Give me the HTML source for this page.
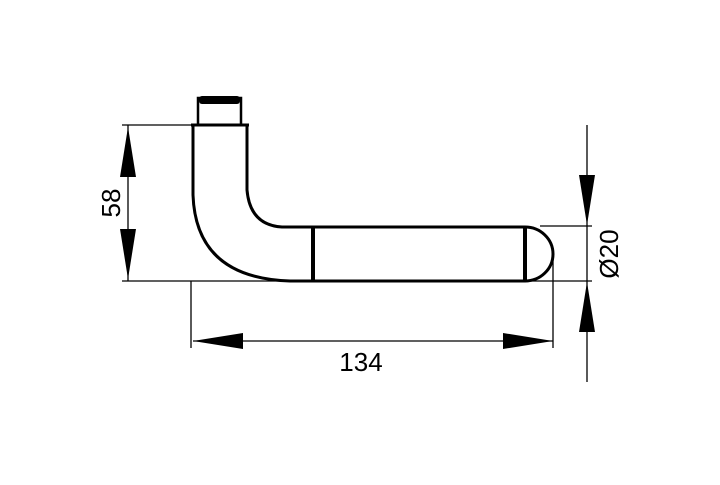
<!DOCTYPE html>
<html><head><style>body{margin:0;background:#fff}</style></head><body>
<svg width="720" height="480" viewBox="0 0 720 480" xmlns="http://www.w3.org/2000/svg">
<g fill="none" stroke="#000">
<path d="M193,125 L193,195 Q196,278 290,281 L313,281" stroke-width="3"/>
<path d="M247,125 L247,190 Q250,225 282,227 L313,227" stroke-width="3"/>
<line x1="191" y1="125" x2="249" y2="125" stroke-width="3"/>
<rect x="198" y="98" width="43" height="27" stroke-width="2.5"/>
<line x1="313" y1="227" x2="313" y2="281" stroke-width="4"/>
<line x1="313" y1="227" x2="525" y2="227" stroke-width="3"/>
<line x1="313" y1="281" x2="525" y2="281" stroke-width="3"/>
<line x1="525" y1="227" x2="525" y2="281" stroke-width="4"/>
<path d="M525,227 A28,27 0 0 1 525,281" stroke-width="3"/>
<g stroke-width="1.3">
<line x1="122" y1="125" x2="191" y2="125"/>
<line x1="122" y1="281" x2="592" y2="281"/>
<line x1="128" y1="125" x2="128" y2="281"/>
<line x1="191" y1="281" x2="191" y2="348"/>
<line x1="553" y1="254" x2="553" y2="348"/>
<line x1="193" y1="341" x2="553" y2="341"/>
<line x1="540" y1="226" x2="592" y2="226"/>
<line x1="587" y1="125" x2="587" y2="382"/>
</g>
</g>
<g fill="#000">
<polygon points="128,127 120,177 136,177"/>
<polygon points="128,279 120,229 136,229"/>
<polygon points="193,341 243,333 243,349"/>
<polygon points="553,341 503,333 503,349"/>
<polygon points="587,225 579,175 595,175"/>
<polygon points="587,282 579,332 595,332"/>
<rect x="199" y="96" width="41" height="8" rx="3"/>
</g>
<g font-family="Liberation Sans, sans-serif" font-size="26" fill="#000">
<text x="361" y="371" text-anchor="middle">134</text>
<text transform="translate(120,203) rotate(-90)" text-anchor="middle">58</text>
<text transform="translate(618,254) rotate(-90)" text-anchor="middle">Ø20</text>
</g>
</svg>
</body></html>
